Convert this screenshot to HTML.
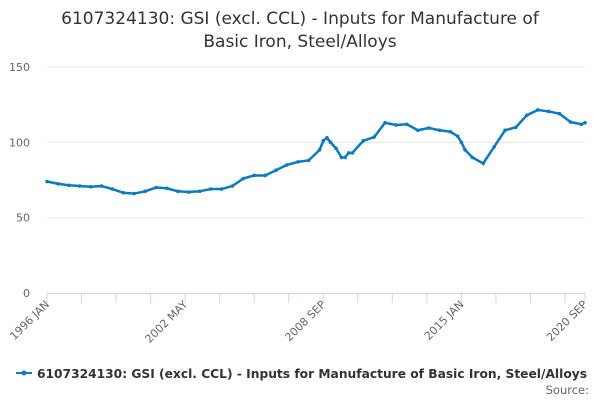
<!DOCTYPE html>
<html><head><meta charset="utf-8"><style>
body{margin:0;background:#fff;font-family:"Liberation Sans","DejaVu Sans",sans-serif;}
svg text{font-family:"DejaVu Sans","Liberation Sans",sans-serif;}
</style></head><body>
<svg id="chart" width="600" height="400">
<text x="300" y="24" text-anchor="middle" font-size="17" fill="#333">6107324130: GSI (excl. CCL) - Inputs for Manufacture of</text>
<text x="300" y="47" text-anchor="middle" font-size="17" fill="#333">Basic Iron, Steel/Alloys</text>
<g id="grid"></g><g id="xaxis"></g><g id="series"></g>
<g>
<line x1="16" y1="373" x2="32" y2="373" stroke="#0a7bc1" stroke-width="2"/>
<circle cx="24" cy="373" r="2.5" fill="#0a7bc1"/>
<text x="37" y="378" font-size="12" font-weight="bold" fill="#333" textLength="550" lengthAdjust="spacingAndGlyphs">6107324130: GSI (excl. CCL) - Inputs for Manufacture of Basic Iron, Steel/Alloys</text>
</g>
<text x="589" y="394" text-anchor="end" font-size="11.5" fill="#666">Source:</text>
</svg>
<script>
const months=[0,6,12,18,24,30,36,42,48,54,60,66,72,78,84,90,96,102,108,114,120,126,132,138,144,150,152,154,156,159,162,164,166,168,174,180,186,192,198,204,210,216,222,226,228,230,234,240,246,252,258,264,270,276,282,288,294,296];
const values=[74,72.5,71.5,71,70.5,71,69,66.5,66,67.5,70,69.5,67.5,67,67.5,69,69,71,76,78,78,81.5,85,87,88,95,101,103,100,96,90,90,93,93,101,103.5,113,111.5,112,108,109.5,108,107,104,100,95,90,86,97,108,110,118,121.5,120.5,119,113.5,112,113];
const yTicks=[0,50,100,150];
const xTickLabels=["1996 JAN","2002 MAY","2008 SEP","2015 JAN","2020 SEP"];
const xTickMonths=[0,76,152,228,296];
const ns="http://www.w3.org/2000/svg";
const X0=47,X1=585,Y0=293,Y150=67;
const xs=m=>X0+(X1-X0)*m/296;
const ys=v=>Y0-(Y0-Y150)*v/150;
function mk(t,a,p){const e=document.createElementNS(ns,t);for(const k in a)e.setAttribute(k,a[k]);p.appendChild(e);return e;}
const grid=document.getElementById('grid');
yTicks.forEach(v=>{
 if(v>0){const l=mk('line',{x1:X0,x2:X1,y1:ys(v),y2:ys(v),stroke:'#e6e6e6'},grid);
 
 }
 const t=mk('text',{x:30,y:ys(v)+4,'text-anchor':'end','font-size':11,fill:'#666'},grid);t.textContent=v;
 
 
});
const xa=document.getElementById('xaxis');
const axl=mk('line',{x1:X0,x2:X1,y1:Y0+0.5,y2:Y0+0.5,stroke:'#ccd6eb'},xa);


for(let m=0;m<=296;m+=19){const xx=Math.min(xs(m),X1);mk('line',{x1:xx,x2:xx,y1:Y0,y2:Y0+10,stroke:'#ccd6eb'},xa);}
mk('line',{x1:xs(296),x2:xs(296),y1:Y0,y2:Y0+10,stroke:'#ccd6eb'},xa);
xTickLabels.forEach((lab,i)=>{const x=xs(xTickMonths[i]);
 const t=mk('text',{x:x+3,y:Y0+12,'text-anchor':'end','font-size':11,fill:'#666',transform:`rotate(-45 ${x+3} ${Y0+12})`},xa);t.textContent=lab;
 
 
});
const s=document.getElementById('series');
const p=mk('path',{d:months.map((m,i)=>(i?'L':'M')+xs(m)+' '+ys(values[i])).join(' '),fill:'none',stroke:'#0a7bc1','stroke-width':2.5,'stroke-linejoin':'round'},s);


months.forEach((m,i)=>{const c=mk('circle',{cx:xs(m),cy:ys(values[i]),r:1.8,fill:'#0a7bc1'},s);
 
 });
</script>
</body></html>
